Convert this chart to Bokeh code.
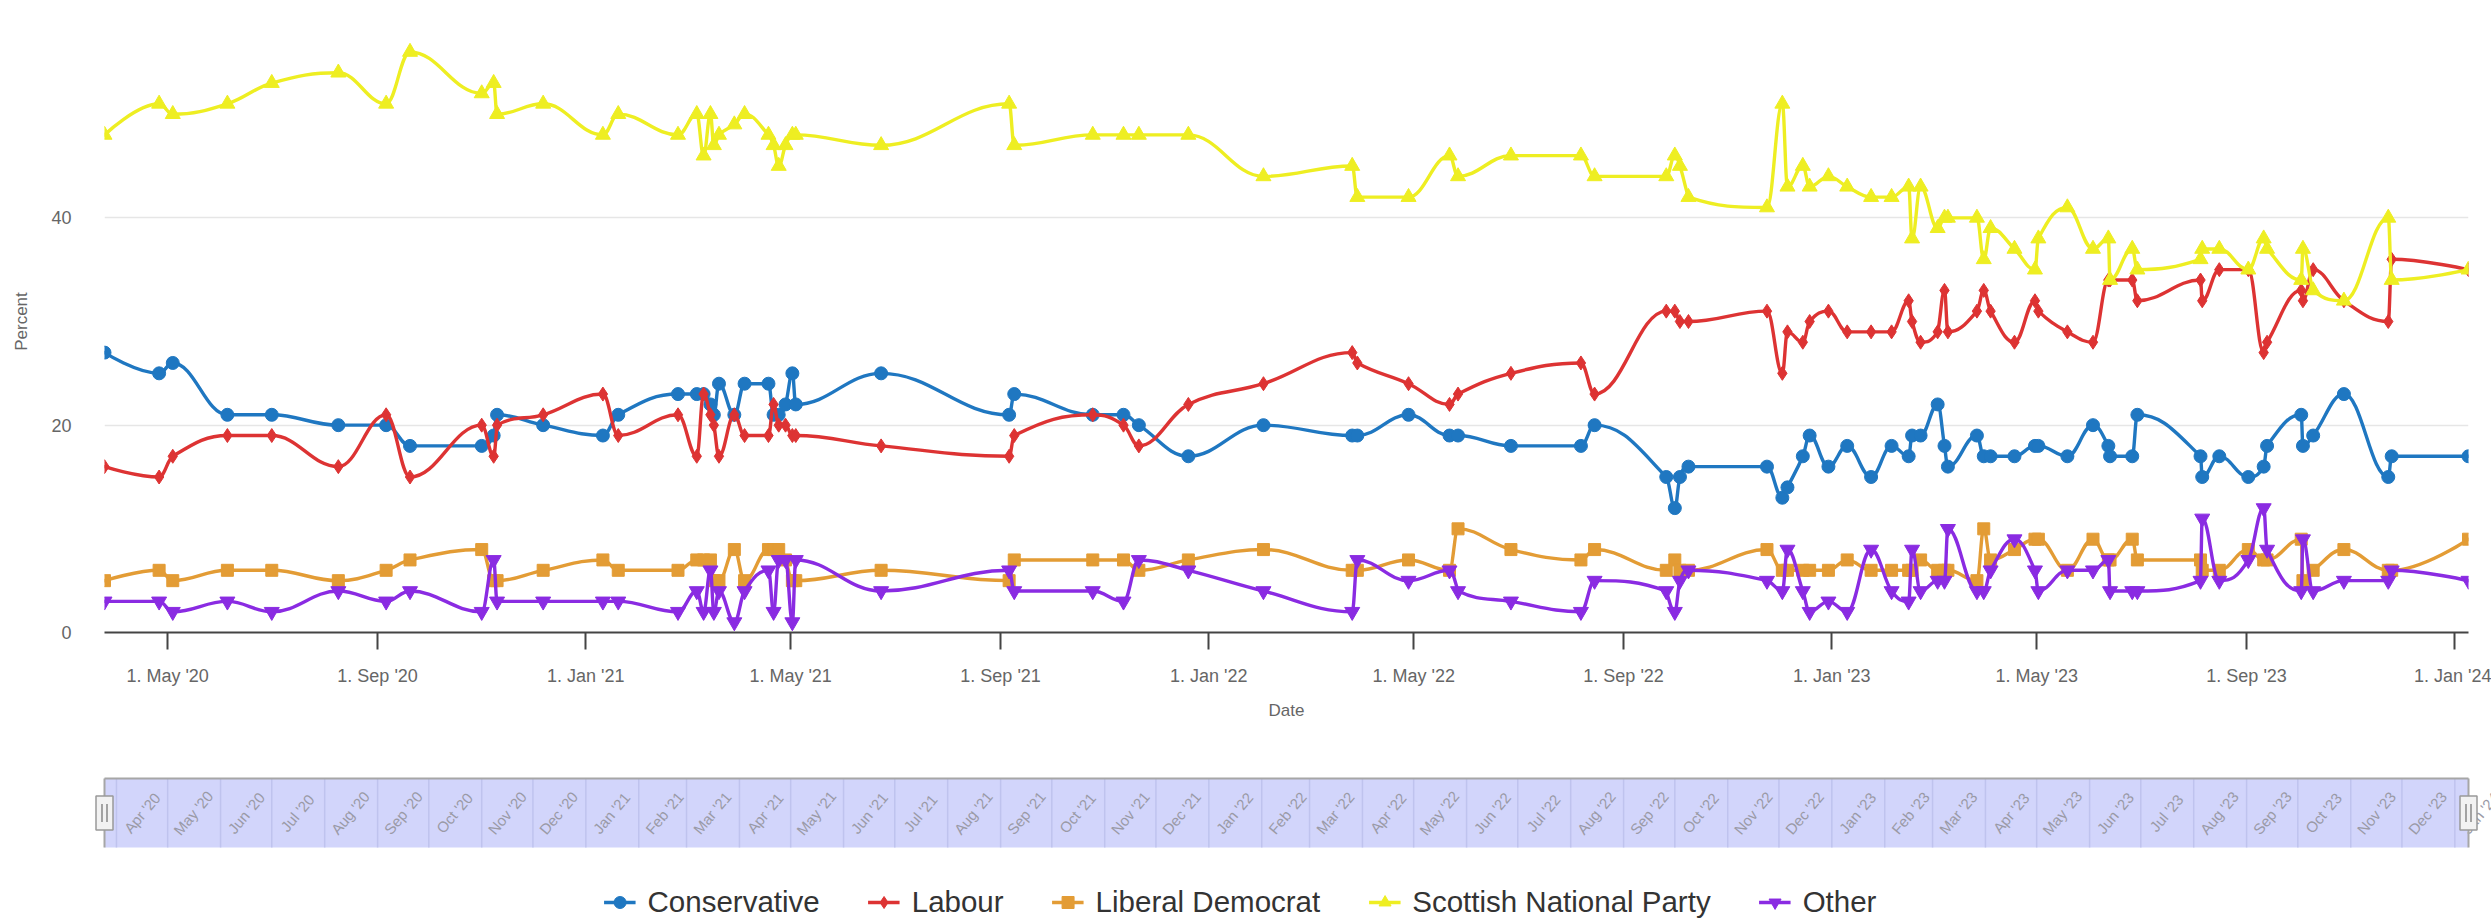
import pandas as pd
from bokeh.plotting import figure
from bokeh.models import (Range1d, FixedTicker, DatetimeTickFormatter, Legend,
                          LegendItem, ColumnDataSource)
from bokeh.layouts import column
from bokeh.core.properties import value
from bokeh.embed import file_html
from bokeh.resources import INLINE

# ---------------- data ----------------
poll_dates = [
    "2020-03-25", "2020-04-26", "2020-05-04", "2020-06-05", "2020-07-01", "2020-08-09",
    "2020-09-06", "2020-09-20", "2020-11-01", "2020-11-08", "2020-11-10", "2020-12-07",
    "2021-01-11", "2021-01-20", "2021-02-24", "2021-03-07", "2021-03-11", "2021-03-15",
    "2021-03-17", "2021-03-20", "2021-03-29", "2021-04-04", "2021-04-18", "2021-04-21",
    "2021-04-24", "2021-04-28", "2021-05-02", "2021-05-04", "2021-06-23", "2021-09-06",
    "2021-09-09", "2021-10-25", "2021-11-12", "2021-11-21", "2021-12-20", "2022-02-02",
    "2022-03-26", "2022-03-29", "2022-04-28", "2022-05-22", "2022-05-27", "2022-06-27",
    "2022-08-07", "2022-08-15", "2022-09-26", "2022-10-01", "2022-10-04", "2022-10-09",
    "2022-11-24", "2022-12-03", "2022-12-06", "2022-12-15", "2022-12-19", "2022-12-30",
    "2023-01-10", "2023-01-24", "2023-02-05", "2023-02-15", "2023-02-17", "2023-02-22",
    "2023-03-04", "2023-03-08", "2023-03-10", "2023-03-27", "2023-03-31", "2023-04-04",
    "2023-04-18", "2023-04-30", "2023-05-02", "2023-05-19", "2023-06-03", "2023-06-12",
    "2023-06-13", "2023-06-26", "2023-06-29", "2023-08-05", "2023-08-06", "2023-08-16",
    "2023-09-02", "2023-09-11", "2023-09-13", "2023-10-03", "2023-10-04", "2023-10-10",
    "2023-10-28", "2023-11-23", "2023-11-25", "2024-01-09",
]
conservative = [
    27, 25, 26, 21, 21, 20, 20, 18, 18, 19, 21, 20,
    19, 21, 23, 23, 23, 22, 21, 24, 21, 24, 24, 21,
    21, 22, 25, 22, 25, 21, 23, 21, 21, 20, 17, 20,
    19, 19, 21, 19, 19, 18, 18, 20, 15, 12, 15, 16,
    16, 13, 14, 17, 19, 16, 18, 15, 18, 17, 19, 19,
    22, 18, 16, 19, 17, 17, 17, 18, 18, 17, 20, 18,
    17, 17, 21, 17, 15, 17, 15, 16, 18, 21, 18, 19,
    23, 15, 17, 17,
]
labour = [
    16, 15, 17, 19, 19, 16, 21, 15, 20, 17, 20, 21,
    23, 19, 21, 17, 23, 21, 20, 17, 21, 19, 19, 22,
    20, 20, 19, 19, 18, 17, 19, 21, 20, 18, 22, 24,
    27, 26, 24, 22, 23, 25, 26, 23, 31, 31, 30, 30,
    31, 25, 29, 28, 30, 31, 29, 29, 29, 32, 30, 28,
    29, 33, 29, 31, 33, 31, 28, 32, 31, 29, 28, 34,
    34, 34, 32, 34, 32, 35, 35, 27, 28, 33, 32, 35,
    32, 30, 36, 35,
]
lib_dem = [
    5, 6, 5, 6, 6, 5, 6, 7, 8, 5, 5, 6,
    7, 6, 6, 7, 7, 7, 5, 5, 8, 5, 8, 8,
    8, 7, 5, 5, 6, 5, 7, 7, 7, 6, 7, 8,
    6, 6, 7, 6, 10, 8, 7, 8, 6, 7, 6, 6,
    8, 6, 6, 6, 6, 6, 7, 6, 6, 6, 6, 7,
    6, 6, 6, 5, 10, 7, 8, 9, 9, 6, 9, 7,
    7, 9, 7, 7, 6, 6, 8, 7, 7, 9, 5, 6,
    8, 6, 6, 9,
]
snp = [
    48, 51, 50, 51, 53, 54, 51, 56, 52, 53, 50, 51,
    48, 50, 48, 50, 46, 50, 47, 48, 49, 50, 48, 47,
    45, 47, 48, 48, 47, 51, 47, 48, 48, 48, 48, 44,
    45, 42, 42, 46, 44, 46, 46, 44, 44, 46, 45, 42,
    41, 51, 43, 45, 43, 44, 43, 42, 42, 43, 38, 43,
    39, 40, 40, 40, 36, 39, 37, 35, 38, 41, 37, 38,
    34, 37, 35, 36, 37, 37, 35, 38, 37, 34, 37, 33,
    32, 40, 34, 35,
]
other = [
    3, 3, 2, 3, 2, 4, 3, 4, 2, 7, 3, 3,
    3, 3, 2, 4, 2, 6, 2, 4, 1, 4, 6, 2,
    7, 7, 1, 7, 4, 6, 4, 4, 3, 7, 6, 4,
    2, 7, 5, 6, 4, 3, 2, 5, 4, 2, 5, 6,
    5, 4, 8, 4, 2, 3, 2, 8, 4, 3, 8, 4,
    5, 5, 10, 4, 4, 6, 9, 6, 4, 6, 6, 7,
    4, 4, 4, 5, 11, 5, 7, 12, 8, 4, 9, 4,
    5, 5, 6, 5,
]

series_names = ["Conservative", "Labour", "Liberal Democrat", "Scottish National Party", "Other"]
series_values = [conservative, labour, lib_dem, snp, other]
series_colors = ["#1f77c1", "#dd3333", "#e39c35", "#eeee22", "#8a2be2"]
series_markers = ["circle", "diamond", "square", "triangle", "inverted_triangle"]
series_sizes = [13, 14, 12, 15, 15]

x_tick_dates = ["2020-05-01", "2020-09-01", "2021-01-01", "2021-05-01", "2021-09-01",
                "2022-01-01", "2022-05-01", "2022-09-01", "2023-01-01", "2023-05-01",
                "2023-09-01", "2024-01-01"]

FONT = "Liberation Sans"
W = 2491


def to_ms(ds):
    idx = pd.to_datetime(ds)
    return [float((d - pd.Timestamp("1970-01-01")) // pd.Timedelta(milliseconds=1)) for d in idx]


def spline(xs, ys, smoothing=1.5):
    """Highcharts-style spline control points -> bezier segments."""
    n = len(xs)
    denom = smoothing + 1
    left, right = [], []
    for i in range(n):
        px, py = xs[i], ys[i]
        if 0 < i < n - 1:
            lx, ly = xs[i - 1], ys[i - 1]
            nx, ny = xs[i + 1], ys[i + 1]
            lcx = (smoothing * px + lx) / denom
            lcy = (smoothing * py + ly) / denom
            rcx = (smoothing * px + nx) / denom
            rcy = (smoothing * py + ny) / denom
            if rcx != lcx:
                corr = ((rcy - lcy) * (rcx - px)) / (rcx - lcx) + py - rcy
                lcy += corr
                rcy += corr
            if lcy > max(ly, py):
                lcy = max(ly, py); rcy = 2 * py - lcy
            elif lcy < min(ly, py):
                lcy = min(ly, py); rcy = 2 * py - lcy
            if rcy > max(ny, py):
                rcy = max(ny, py); lcy = 2 * py - rcy
            elif rcy < min(ny, py):
                rcy = min(ny, py); lcy = 2 * py - rcy
            left.append((lcx, lcy)); right.append((rcx, rcy))
        else:
            left.append((px, py)); right.append((px, py))
    seg = dict(x0=[], y0=[], x1=[], y1=[], cx0=[], cy0=[], cx1=[], cy1=[])
    for i in range(1, n):
        seg["x0"].append(xs[i - 1]); seg["y0"].append(ys[i - 1])
        seg["x1"].append(xs[i]); seg["y1"].append(ys[i])
        seg["cx0"].append(right[i - 1][0]); seg["cy0"].append(right[i - 1][1])
        seg["cx1"].append(left[i][0]); seg["cy1"].append(left[i][1])
    return seg


xs = to_ms(poll_dates)
t0, t1 = min(xs), max(xs)

# ---------------- main chart ----------------
p = figure(width=W, height=740, x_axis_type="datetime",
           x_range=Range1d(t0, t1), y_range=Range1d(0, 60),
           toolbar_location=None, output_backend="svg",
           min_border_left=104, min_border_right=23, min_border_top=10, min_border_bottom=108)
p.frame_align = False
p.outline_line_color = None
p.background_fill_color = "white"
p.border_fill_color = "white"

p.xgrid.grid_line_color = None
p.ygrid.grid_line_color = "#e6e6e6"
p.ygrid.grid_line_width = 1.5

p.yaxis.ticker = FixedTicker(ticks=[0, 20, 40, 60])
p.yaxis.major_label_overrides = {60: ""}
p.yaxis.axis_line_color = None
p.yaxis.major_tick_line_color = None
p.yaxis.minor_tick_line_color = None
p.yaxis.major_tick_out = 0
p.yaxis.major_tick_in = 0
p.yaxis.major_label_standoff = 33
p.yaxis.major_label_text_font = FONT
p.yaxis.major_label_text_font_size = "18px"
p.yaxis.major_label_text_color = "#666666"
p.yaxis.axis_label = "Percent"
p.yaxis.axis_label_text_font = FONT
p.yaxis.axis_label_text_font_size = "17px"
p.yaxis.axis_label_text_font_style = "normal"
p.yaxis.axis_label_text_color = "#666666"
p.yaxis.axis_label_standoff = 17

p.xaxis.ticker = FixedTicker(ticks=to_ms(x_tick_dates))
fmt = "1. %b '%y"
p.xaxis.formatter = DatetimeTickFormatter(milliseconds=fmt, seconds=fmt, minsec=fmt, minutes=fmt,
                                          hourmin=fmt, hours=fmt, days=fmt, months=fmt, years=fmt)
p.xaxis.axis_line_color = "#444444"
p.xaxis.axis_line_width = 2
p.xaxis.major_tick_line_color = "#444444"
p.xaxis.major_tick_line_width = 2
p.xaxis.major_tick_out = 17
p.xaxis.major_tick_in = 0
p.xaxis.minor_tick_line_color = None
p.xaxis.major_label_standoff = 16
p.xaxis.major_label_text_font = FONT
p.xaxis.major_label_text_font_size = "18px"
p.xaxis.major_label_text_color = "#666666"
p.xaxis.axis_label = "Date"
p.xaxis.axis_label_text_font = FONT
p.xaxis.axis_label_text_font_size = "17px"
p.xaxis.axis_label_text_font_style = "normal"
p.xaxis.axis_label_text_color = "#666666"
p.xaxis.axis_label_standoff = 12

for name, vals, col, mk, sz in zip(series_names, series_values, series_colors, series_markers, series_sizes):
    seg = spline(xs, [float(v) for v in vals])
    p.bezier(x0="x0", y0="y0", x1="x1", y1="y1", cx0="cx0", cy0="cy0", cx1="cx1", cy1="cy1",
             source=ColumnDataSource(seg), line_color=col, line_width=3.4, line_cap="round")
    p.scatter(x=xs, y=vals, marker=mk, size=sz, fill_color=col, line_color=col, line_width=1)

# ---------------- navigator ----------------
ms_per_px = (t1 - t0) / 2364.0
nav_start = t0 - 10 * ms_per_px
nav_end = t1 + 23 * ms_per_px
nav = figure(width=W, height=130, x_axis_type="datetime",
             x_range=Range1d(nav_start, nav_end), y_range=Range1d(-0.03, 1.03),
             toolbar_location=None, output_backend="svg",
             min_border_left=94, min_border_right=0, min_border_top=36, min_border_bottom=21,
             x_axis_location=None, y_axis_location=None)
nav.frame_align = False
nav.outline_line_color = None
nav.xgrid.visible = False
nav.ygrid.visible = False

months = pd.date_range(pd.Timestamp(t0, unit="ms") + pd.offsets.MonthBegin(1),
                       pd.Timestamp(t1, unit="ms"), freq="MS")
month_ms = to_ms(months)
month_label_x = to_ms(months + pd.Timedelta(days=15))
month_labels = [f"{d:%b} '{d:%y}" for d in months]

nav.quad(left=[t0], right=[t1], bottom=[0], top=[1], fill_color="#d2d5fb", line_color=None)
nav.segment(x0=month_ms, y0=[0] * len(month_ms), x1=month_ms, y1=[1] * len(month_ms),
            line_color="#bfc3ee", line_width=1.5)
nav.text(x=month_label_x, y=[0.5] * len(month_ms), text=month_labels, angle=50, angle_units="deg",
         text_align="center", text_baseline="middle", text_font=value(FONT),
         text_font_size="15px", text_color="#9a9aa6")
nav.segment(x0=[t0, t0, t1], y0=[1, 0, 0], x1=[t1, t0, t1], y1=[1, 1, 1],
            line_color="#a6a6a6", line_width=2)
nav.rect(x=[t0, t1], y=[0.5, 0.5], width=17, height=34, width_units="screen", height_units="screen",
         fill_color="#f2f2f2", line_color="#999999", line_width=1.5)
hx = [t0 - 2.5 * ms_per_px, t0 + 2.5 * ms_per_px, t1 - 2.5 * ms_per_px, t1 + 2.5 * ms_per_px]
nav.segment(x0=hx, y0=[0.37] * 4, x1=hx, y1=[0.63] * 4, line_color="#777777", line_width=1.3)

# ---------------- legend ----------------
leg = figure(width=W, height=51, x_range=Range1d(0, 1), y_range=Range1d(0, 1),
             toolbar_location=None, output_backend="svg",
             min_border_left=0, min_border_right=11, min_border_top=0, min_border_bottom=0,
             x_axis_location=None, y_axis_location=None)
leg.frame_align = False
leg.outline_line_color = None
leg.xgrid.visible = False
leg.ygrid.visible = False
items = []
for name, col, mk in zip(series_names, series_colors, series_markers):
    # placeholder renderers kept outside the visible range; they only feed the legend glyphs
    r1 = leg.line(x=[-5, -4], y=[-5, -5], line_color=col, line_width=3.4)
    r2 = leg.scatter(x=[-5], y=[-5], marker=mk, fill_color=col, line_color=col)
    items.append(LegendItem(label=name, renderers=[r1, r2]))
legend = Legend(items=items, orientation="horizontal", location="bottom_center",
                label_text_font=FONT, label_text_font_size="29.5px", label_text_color="#333333",
                glyph_width=32, glyph_height=30, label_standoff=12, spacing=48,
                padding=0, margin=2, border_line_color=None, background_fill_alpha=0)
leg.add_layout(legend, "center")

layout = column(p, nav, leg, spacing=0)
open("out.html", "w").write(file_html(layout, INLINE))
